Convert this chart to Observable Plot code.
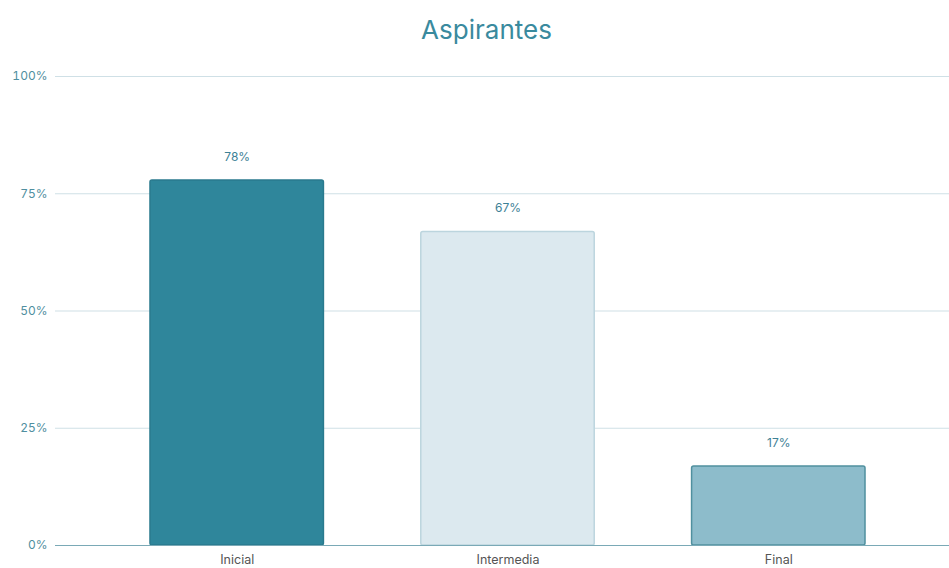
<!DOCTYPE html>
<html>
<head>
<meta charset="utf-8">
<script src="https://cdn.jsdelivr.net/npm/d3@7"></script>
<script src="https://cdn.jsdelivr.net/npm/@observablehq/plot@0.6"></script>
<style>
  body { margin: 0; background: #ffffff; font-family: Inter, "Open Sans", sans-serif; }
  #title { height: 56px; box-sizing: border-box; padding-top: 14px; text-align: center; padding-left: 24px;
           font-size: 26px; color: #3a8a9e; font-family: Inter, "Open Sans", sans-serif; line-height: 32px; }
</style>
</head>
<body>
<div id="title">Aspirantes</div>
<div id="chart"></div>
<script>
const categories = ["Inicial", "Intermedia", "Final"];
const values = [78, 67, 17];
const yTicks = [0, 25, 50, 75, 100];
const fills = ["#2f869b", "#dce9ef", "#8dbccb"];
const strokes = ["#2a7a8e", "#bcd5de", "#50909f"];

const data = categories.map((c, i) => ({cat: c, value: values[i], fill: fills[i], stroke: strokes[i]}));

const chart = Plot.plot({
  width: 949,
  height: 512,
  marginLeft: 55,
  marginRight: 0,
  marginTop: 20,
  marginBottom: 23,
  style: {fontFamily: "Inter, 'Open Sans', sans-serif", fontSize: "12px", background: "#ffffff"},
  x: {domain: categories, range: [68, 947], paddingInner: 0.354, paddingOuter: 0.3, round: false, label: null},
  y: {domain: [0, 100], label: null},
  marks: [
    Plot.ruleY(yTicks.filter(d => d > 0), {stroke: "#cfe0e6", strokeWidth: 1.2}),
    Plot.barY(data, {x: "cat", y: "value", fill: "fill", stroke: "stroke", strokeWidth: 1.5, rx: 2, insetTop: 0.75, insetLeft: 0.75, insetRight: 0.75}),
    Plot.ruleY([0], {stroke: "#7aa9b6", strokeWidth: 1.2}),
    Plot.text(data, {x: "cat", y: "value", text: d => d.value + "%", dy: -23, fill: "#3d8196", fontSize: 12}),
    Plot.axisY({ticks: yTicks, tickSize: 0, tickPadding: 8, tickFormat: d => d + "%", fill: "#4f8fa0", fontSize: 12, label: null}),
    Plot.axisX({tickSize: 0, tickPadding: 10, fill: "#555555", fontSize: 12.5, label: null})
  ]
});
document.getElementById("chart").appendChild(chart);
</script>
</body>
</html>
